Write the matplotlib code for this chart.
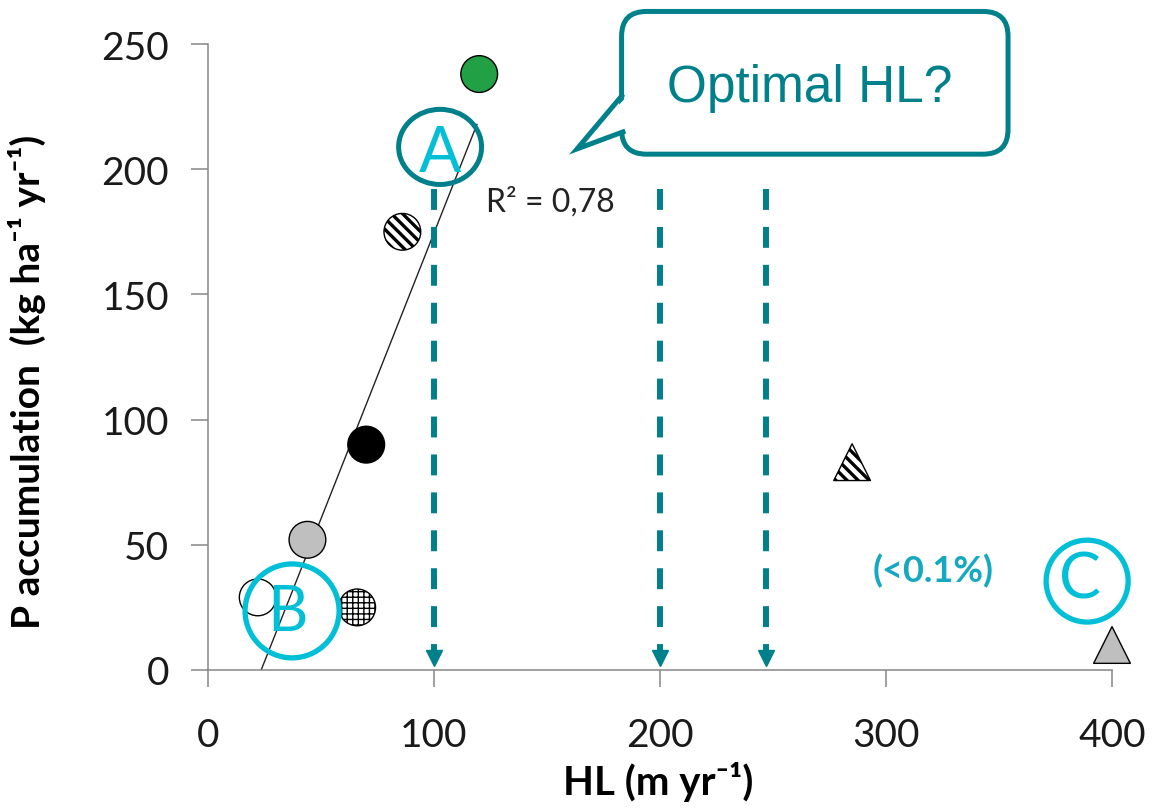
import numpy as np
import matplotlib
matplotlib.use("Agg")
import matplotlib.pyplot as plt
from matplotlib.patches import Ellipse, FancyBboxPatch, Polygon

plt.rcParams['font.family'] = ['Lato', 'DejaVu Sans']

# circles: HL (m/yr) vs P accumulation (kg/ha/yr)
circle_hl = [22, 44, 66, 70, 86, 120]
circle_p = [29, 52, 25, 90, 175, 238]
circle_face = ['white', '#bfbfbf', 'white', 'black', 'white', '#22a045']
circle_hatch = ['', '', '+++', '', '\\\\\\', '']

# triangles (outside the fit)
tri_hl = [285, 400]
tri_p = [83, 10]
tri_face = ['white', '#bfbfbf']
tri_hatch = ['\\\\\\', '']

arrow_hl = [100, 200, 247]
r2_text = "R² = 0,78"
xticks = [0, 100, 200, 300, 400]
yticks = [0, 50, 100, 150, 200, 250]

teal = '#00808b'
cyan = '#00bfd6'
grey = '#868686'

fig = plt.figure(figsize=(11.53, 8.12), dpi=100)
ax = fig.add_axes([208/1153, 141/812, 904/1153, 626/812])


def hatch_lw(h):
    # grid lines are thin, stripes are thick
    return 1.0 if '+' in h else 2.4


# markers
for x, y, fc, h in zip(circle_hl, circle_p, circle_face, circle_hatch):
    plt.rcParams['hatch.linewidth'] = hatch_lw(h)
    ax.scatter(x, y, s=700, marker='o', facecolor=fc, edgecolor='black',
               hatch=h, linewidth=1, zorder=3, clip_on=False)
for x, y, fc, h in zip(tri_hl, tri_p, tri_face, tri_hatch):
    plt.rcParams['hatch.linewidth'] = hatch_lw(h)
    ax.scatter(x, y, s=700, marker='^', facecolor=fc, edgecolor='black',
               hatch=h, linewidth=1, zorder=3, clip_on=False)

# linear trend of the circles
slope, icpt = np.polyfit(circle_hl, circle_p, 1)
x0 = -icpt / slope
xs = np.array([x0, 119])
ax.plot(xs, slope * xs + icpt, color='#222222', lw=1, zorder=2)
ax.text(123, 187, r2_text, fontsize=23, color='#222222', va='center')

# dashed arrows down to the axis
for x in arrow_hl:
    ax.plot([x, x], [192, 8], color=teal, lw=4.3, dashes=(3.5, 2.85),
            solid_capstyle='butt', dash_capstyle='butt', zorder=4)
    ax.plot(x, 4.6, marker='v', ms=11, color=teal, zorder=4, clip_on=False)

# A / B / C rings
ax.add_patch(Ellipse((102.7, 208.9), 36.7, 30, fill=False, ec=teal, lw=3.6,
                     zorder=5, clip_on=False))
ax.text(102.7, 206.4, 'A', fontsize=45, color=cyan, ha='center', va='center',
        zorder=6)
ax.add_patch(Ellipse((37.2, 23.6), 41.6, 37.5, fill=False, ec=cyan, lw=3.8,
                     zorder=5, clip_on=False))
ax.text(35, 23, 'B', fontsize=45, color=cyan, ha='center', va='center',
        zorder=6)
ax.add_patch(Ellipse((389, 35.5), 36.3, 32.7, fill=False, ec=cyan, lw=3.8,
                     zorder=5, clip_on=False))
ax.text(386, 36, 'C', fontsize=45, color=cyan, ha='center', va='center',
        zorder=6)

ax.text(321, 40, '(<0.1%)', fontsize=26, fontweight='bold', color='#15a9c1',
        ha='center', va='center')

# speech bubble
box = FancyBboxPatch((183, 206), 171, 57,
                     boxstyle='round,pad=0,rounding_size=11',
                     mutation_aspect=0.9, fc='white', ec=teal, lw=3.6,
                     zorder=7, clip_on=False)
ax.add_patch(box)
ax.add_patch(Polygon([(185.5, 229.2), (163.3, 208.1), (185.5, 214.9)],
                     closed=True, fc='white', ec='none', zorder=8, clip_on=False))
ax.plot([183, 163.3, 183.6], [229.2, 208.1, 214.9], color=teal, lw=3.6,
        solid_joinstyle='miter', zorder=9, clip_on=False)
ax.text(266.4, 232.8, 'Optimal HL?', fontsize=37, color=teal,
        family=['Liberation Sans', 'DejaVu Sans'], ha='center', va='center',
        zorder=10)

# axes styling
ax.set_xlim(0, 400)
ax.set_ylim(0, 250)
ax.set_xticks(xticks)
ax.set_yticks(yticks)
for s in ['top', 'right']:
    ax.spines[s].set_visible(False)
for s in ['left', 'bottom']:
    ax.spines[s].set_color(grey)
    ax.spines[s].set_linewidth(1.1)
ax.tick_params(direction='out', length=12, width=1.1, color=grey,
               labelsize=28, labelcolor='#1a1a1a')
ax.tick_params(axis='y', pad=16)
ax.tick_params(axis='x', pad=22)

ax.set_xlabel('HL (m yr⁻¹)', fontsize=29, fontweight='bold', va='center')
ax.xaxis.set_label_coords(0.498, -0.178)
ax.set_ylabel('P accumulation  (kg ha⁻¹ yr⁻¹)', fontsize=28,
              fontweight='bold', va='center')
ax.yaxis.set_label_coords(-0.200, 0.462)

fig.savefig('out.png', dpi=100)
